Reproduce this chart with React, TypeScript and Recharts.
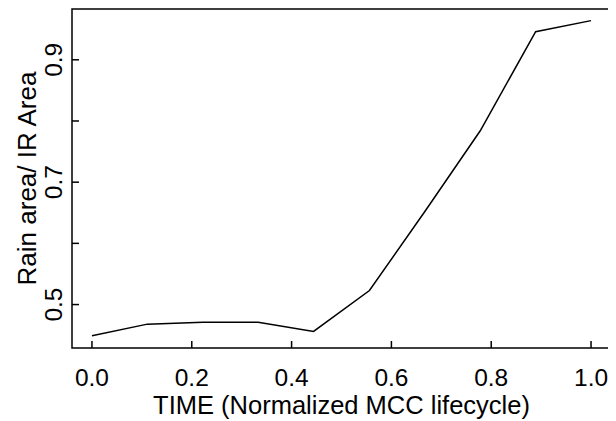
import React from 'react';

import { LineChart, Line, XAxis, YAxis, ReferenceArea } from 'recharts';

const times = [0, 0.111, 0.222, 0.333, 0.444, 0.556, 0.667, 0.778, 0.889, 1.0];
const ratios = [0.449, 0.468, 0.471, 0.471, 0.456, 0.523, 0.652, 0.784, 0.946, 0.964];
const xTicks = [0, 0.2, 0.4, 0.6, 0.8, 1.0];
const yTicks = [0.5, 0.6, 0.7, 0.8, 0.9];
const yLabelled = [0.5, 0.7, 0.9];

const data = times.map((t, i) => ({ t, r: ratios[i] }));

const X_DOMAIN: [number, number] = [-0.04, 1.04];
const Y_DOMAIN: [number, number] = [0.429, 0.983];
const FONT = '"Liberation Sans", Arial, Helvetica, sans-serif';

const XTick = ({ x, y, payload }: any) => (
  <g>
    <line x1={x} y1={y} x2={x} y2={y - 7} stroke="#000" strokeWidth={1.5} />
    <text x={x} y={y + 38} textAnchor="middle" fontSize={24.5} fontFamily={FONT} fill="#000">
      {payload.value.toFixed(1)}
    </text>
  </g>
);

const YTick = ({ x, y, payload }: any) => (
  <g>
    <line x1={x} y1={y} x2={x + 7} y2={y} stroke="#000" strokeWidth={1.5} />
    {yLabelled.includes(payload.value) && (
      <text
        x={x - 10}
        y={y}
        transform={`rotate(-90, ${x - 10}, ${y})`}
        textAnchor="middle"
        fontSize={24.5}
        fontFamily={FONT}
        fill="#000"
      >
        {payload.value.toFixed(1)}
      </text>
    )}
  </g>
);

const YLabel = ({ viewBox }: any) => {
  const cx = 28;
  const cy = viewBox.y + viewBox.height / 2;
  return (
    <text
      x={cx}
      y={cy}
      transform={`rotate(-90, ${cx}, ${cy})`}
      textAnchor="middle"
      fontSize={26}
      fontFamily={FONT}
      fill="#000"
    >
      Rain area/ IR Area
    </text>
  );
};

export default function App() {
  return (
    <div style={{ width: 608, height: 413 }}>
      <LineChart width={608} height={413} data={data} margin={{ top: 1, right: 5, left: 0, bottom: 0 }}>
        <XAxis
          dataKey="t"
          type="number"
          domain={X_DOMAIN}
          ticks={xTicks}
          allowDataOverflow
          axisLine={false}
          tickLine={false}
          tickSize={0}
          tickMargin={0}
          height={73}
          tick={<XTick />}
          label={{
            value: 'TIME (Normalized MCC lifecycle)',
            position: 'insideBottom',
            offset: 7,
            fontSize: 25.5,
            fontFamily: FONT,
            fill: '#000',
          }}
        />
        <YAxis
          type="number"
          domain={Y_DOMAIN}
          ticks={yTicks}
          allowDataOverflow
          axisLine={false}
          tickLine={false}
          tickSize={0}
          tickMargin={0}
          width={64}
          tick={<YTick />}
          label={<YLabel />}
        />
        <ReferenceArea
          x1={X_DOMAIN[0]}
          x2={X_DOMAIN[1]}
          y1={Y_DOMAIN[0]}
          y2={Y_DOMAIN[1]}
          fill="none"
          stroke="#000"
          strokeWidth={1.5}
          fillOpacity={0}
        />
        <Line dataKey="r" stroke="#000" strokeWidth={1.5} dot={false} type="linear" isAnimationActive={false} />
      </LineChart>
    </div>
  );
}
